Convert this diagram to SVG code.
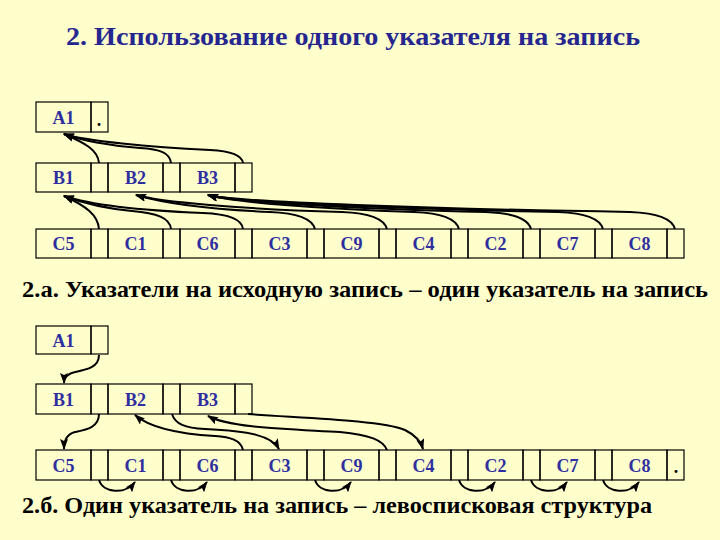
<svg xmlns="http://www.w3.org/2000/svg" width="720" height="540" viewBox="0 0 720 540">
<defs>
<marker id="ah" markerWidth="11" markerHeight="8" refX="10" refY="4" orient="auto" markerUnits="userSpaceOnUse">
<path d="M0,0 L11,4 L0,8 L2,4 Z" fill="#000"/>
</marker>
</defs>
<style>
text{font-family:"Liberation Serif","DejaVu Serif","Times New Roman",serif;font-weight:bold}
.cell{fill:none;stroke:#000;stroke-width:1.2}
.lbl{font-size:18px;fill:#2e2ea0;text-anchor:middle}
.dot{font-size:18px;fill:#000;text-anchor:middle}
.ttl{fill:#262690}
.sub{fill:#000}
.arr{fill:none;stroke:#000;stroke-width:2;marker-end:url(#ah)}
</style>
<rect width="720" height="540" fill="#ffffcc"/>
<text class="ttl" x="66" y="45" font-size="26" textLength="574" lengthAdjust="spacingAndGlyphs">2. Использование одного указателя на запись</text>
<text class="sub" x="22" y="297" font-size="23" textLength="686" lengthAdjust="spacingAndGlyphs">2.а. Указатели на исходную запись – один указатель на запись</text>
<text class="sub" x="22" y="513" font-size="23" textLength="630" lengthAdjust="spacingAndGlyphs">2.б. Один указатель на запись – левосписковая структура</text>

<!-- Top section -->
<g id="a1-top"><rect class="cell" x="36" y="102" width="55" height="30"/><rect class="cell" x="91" y="102" width="17" height="30"/><text class="lbl" x="63.5" y="124">A1</text><text class="dot" x="99" y="126">.</text></g>
<g id="b1-top"><rect class="cell" x="36" y="163" width="55" height="29"/><rect class="cell" x="91" y="163" width="17" height="29"/><text class="lbl" x="63.5" y="184">B1</text></g>
<g id="b2-top"><rect class="cell" x="108" y="163" width="55" height="29"/><rect class="cell" x="163" y="163" width="17" height="29"/><text class="lbl" x="135.5" y="184">B2</text></g>
<g id="b3-top"><rect class="cell" x="180" y="163" width="55" height="29"/><rect class="cell" x="235" y="163" width="17" height="29"/><text class="lbl" x="207.5" y="184">B3</text></g>
<g id="c5-top"><rect class="cell" x="36" y="229" width="55" height="29"/><rect class="cell" x="91" y="229" width="17" height="29"/><text class="lbl" x="63.5" y="250">C5</text></g>
<g id="c1-top"><rect class="cell" x="108" y="229" width="55" height="29"/><rect class="cell" x="163" y="229" width="17" height="29"/><text class="lbl" x="135.5" y="250">C1</text></g>
<g id="c6-top"><rect class="cell" x="180" y="229" width="55" height="29"/><rect class="cell" x="235" y="229" width="17" height="29"/><text class="lbl" x="207.5" y="250">C6</text></g>
<g id="c3-top"><rect class="cell" x="252" y="229" width="55" height="29"/><rect class="cell" x="307" y="229" width="17" height="29"/><text class="lbl" x="279.5" y="250">C3</text></g>
<g id="c9-top"><rect class="cell" x="324" y="229" width="55" height="29"/><rect class="cell" x="379" y="229" width="17" height="29"/><text class="lbl" x="351.5" y="250">C9</text></g>
<g id="c4-top"><rect class="cell" x="396" y="229" width="55" height="29"/><rect class="cell" x="451" y="229" width="17" height="29"/><text class="lbl" x="423.5" y="250">C4</text></g>
<g id="c2-top"><rect class="cell" x="468" y="229" width="55" height="29"/><rect class="cell" x="523" y="229" width="17" height="29"/><text class="lbl" x="495.5" y="250">C2</text></g>
<g id="c7-top"><rect class="cell" x="540" y="229" width="55" height="29"/><rect class="cell" x="595" y="229" width="17" height="29"/><text class="lbl" x="567.5" y="250">C7</text></g>
<g id="c8-top"><rect class="cell" x="612" y="229" width="55" height="29"/><rect class="cell" x="667" y="229" width="17" height="29"/><text class="lbl" x="639.5" y="250">C8</text></g>

<!-- Bottom section -->
<g id="a1-bot"><rect class="cell" x="36" y="326" width="55" height="28"/><rect class="cell" x="91" y="326" width="17" height="28"/><text class="lbl" x="63.5" y="347">A1</text></g>
<g id="b1-bot"><rect class="cell" x="36" y="384" width="55" height="30"/><rect class="cell" x="91" y="384" width="17" height="30"/><text class="lbl" x="63.5" y="406">B1</text></g>
<g id="b2-bot"><rect class="cell" x="108" y="384" width="55" height="30"/><rect class="cell" x="163" y="384" width="17" height="30"/><text class="lbl" x="135.5" y="406">B2</text></g>
<g id="b3-bot"><rect class="cell" x="180" y="384" width="55" height="30"/><rect class="cell" x="235" y="384" width="17" height="30"/><text class="lbl" x="207.5" y="406">B3</text></g>
<g id="c5-bot"><rect class="cell" x="36" y="450" width="55" height="30"/><rect class="cell" x="91" y="450" width="17" height="30"/><text class="lbl" x="63.5" y="472">C5</text></g>
<g id="c1-bot"><rect class="cell" x="108" y="450" width="55" height="30"/><rect class="cell" x="163" y="450" width="17" height="30"/><text class="lbl" x="135.5" y="472">C1</text></g>
<g id="c6-bot"><rect class="cell" x="180" y="450" width="55" height="30"/><rect class="cell" x="235" y="450" width="17" height="30"/><text class="lbl" x="207.5" y="472">C6</text></g>
<g id="c3-bot"><rect class="cell" x="252" y="450" width="55" height="30"/><rect class="cell" x="307" y="450" width="17" height="30"/><text class="lbl" x="279.5" y="472">C3</text></g>
<g id="c9-bot"><rect class="cell" x="324" y="450" width="55" height="30"/><rect class="cell" x="379" y="450" width="17" height="30"/><text class="lbl" x="351.5" y="472">C9</text></g>
<g id="c4-bot"><rect class="cell" x="396" y="450" width="55" height="30"/><rect class="cell" x="451" y="450" width="17" height="30"/><text class="lbl" x="423.5" y="472">C4</text></g>
<g id="c2-bot"><rect class="cell" x="468" y="450" width="55" height="30"/><rect class="cell" x="523" y="450" width="17" height="30"/><text class="lbl" x="495.5" y="472">C2</text></g>
<g id="c7-bot"><rect class="cell" x="540" y="450" width="55" height="30"/><rect class="cell" x="595" y="450" width="17" height="30"/><text class="lbl" x="567.5" y="472">C7</text></g>
<g id="c8-bot"><rect class="cell" x="612" y="450" width="55" height="30"/><rect class="cell" x="667" y="450" width="17" height="30"/><text class="lbl" x="639.5" y="472">C8</text><text class="dot" x="676" y="473">.</text></g>

<g id="connectors">
<!-- top: B -> A1 -->
<path class="arr" d="M99,163 C98,150 85,143 64,134"/>
<path class="arr" d="M171,163 C170,153 160,149 140,148 C110,146 80,140 64,134"/>
<path class="arr" d="M243,163 C242,155 230,151 210,150 C150,147 85,141 64,134"/>
<!-- top: C -> B1 -->
<path class="arr" d="M99,229 C98,215 86,206 64,196"/>
<path class="arr" d="M171,229 C170,218 157,213 132,211 C100,208 80,202 64,196"/>
<path class="arr" d="M243,229 C242,219 228,214 203,213 C130,210 85,203 64,196"/>
<!-- top: C -> B2 -->
<path class="arr" d="M315,229 C312,218 295,213 270,212 C200,209 160,202 136,195"/>
<path class="arr" d="M387,229 C384,218 367,213 342,212 C240,209 160,202 136,195"/>
<!-- top: C -> B3 -->
<path class="arr" d="M459,229 C456,218 439,213 414,212 C320,209 232,202 208,195"/>
<path class="arr" d="M531,229 C528,218 511,213 486,212 C360,209 232,202 208,195"/>
<path class="arr" d="M603,229 C600,218 583,213 558,212 C400,209 232,202 208,195"/>
<path class="arr" d="M675,229 C672,218 655,213 630,212 C440,209 232,202 208,195"/>
<!-- bottom -->
<path class="arr" d="M99,355 C99,368 85,370 75,372 C67,374 64,378 64,383"/>
<path class="arr" d="M99,414 C99,428 85,430 75,432 C67,434 64,440 64,449"/>
<path class="arr" d="M243,450 C241,440 230,437 215,436 C180,434 150,428 135,415"/>
<path class="arr" d="M172,414 C175,424 185,428 205,429 C250,431 272,436 279,449"/>
<path class="arr" d="M387,450 C383,440 370,435 340,432 C290,429 230,428 208,416"/>
<path class="arr" d="M248,414 C300,418 380,420 405,430 C415,435 421,442 423,449"/>
<!-- loops under C row -->
<path class="arr" d="M99,480 C103,493 125,495 135,482"/>
<path class="arr" d="M171,480 C175,493 197,495 207,482"/>
<path class="arr" d="M315,480 C319,493 341,495 351,482"/>
<path class="arr" d="M459,480 C463,493 485,495 495,482"/>
<path class="arr" d="M531,480 C535,493 557,495 567,482"/>
<path class="arr" d="M603,480 C607,493 629,495 639,482"/>
</g>
</svg>
